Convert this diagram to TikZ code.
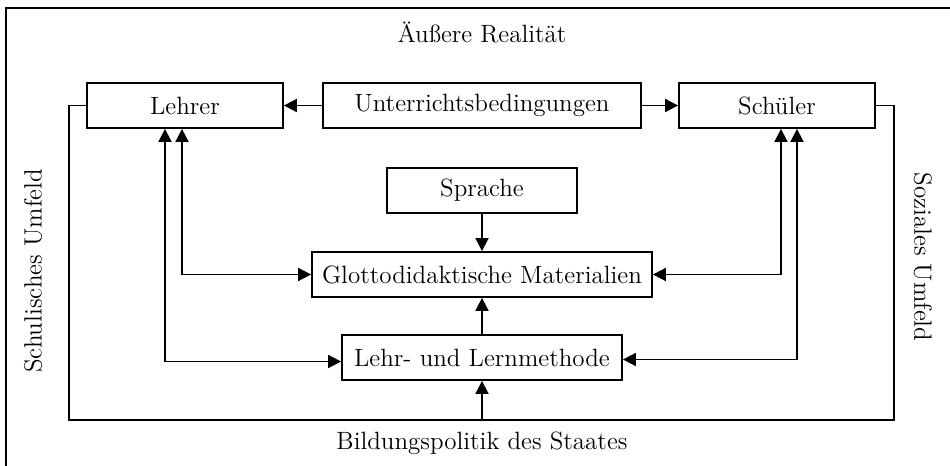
\documentclass[tikz,border=0pt]{standalone}
\usepackage{tikz}
\usetikzlibrary{positioning,arrows.meta}
\tikzset{
  box/.style={draw,line width=0.9pt,minimum height=22.5pt,inner sep=0pt,font=\fontsize{12.5}{14}\selectfont},
  lab/.style={font=\fontsize{12.5}{14}\selectfont},
  arr/.style={-{Triangle[length=6.5pt,width=6.5pt]},line width=0.9pt},
  darr/.style={{Triangle[length=6.5pt,width=6.5pt]}-{Triangle[length=6.5pt,width=6.5pt]},line width=0.9pt}
}
\begin{document}
\begin{tikzpicture}[x=0.5pt,y=-0.5pt]
        \useasboundingbox (0,0) rectangle (950,466);
        % outer frame
        \draw[line width=0.9pt] (6,8) rectangle (960,480);
        \node[lab] (real) at (482,32) {Äußere Realität};
        \node[lab] (politik) at (482,443) {Bildungspolitik des Staates};
        \node[lab,rotate=90] (schule) at (33,271) {Schulisches Umfeld};
        \node[lab,rotate=-90] (sozial) at (923,257) {Soziales Umfeld};

        % top row
        \node[box,minimum width=98pt] (lehrer) at (185,105.5) {Lehrer};
        \node[box,minimum width=159pt] (bed) at (482,105.5) {Unterrichtsbedingungen};
        \node[box,minimum width=98pt] (schueler) at (777,105.5) {Schüler};

        % middle column
        \node[box,minimum width=95pt] (sprache) at (482,190.5) {Sprache};
        \node[box,minimum width=170pt] (mat) at (482,274.5) {Glottodidaktische Materialien};
        \node[box,minimum width=140pt] (methode) at (482,357.5) {Lehr- und Lernmethode};

        \coordinate (bl) at (69,420);
        \coordinate (br) at (894,420);

        \draw[arr] (bed) -- (lehrer);
        \draw[arr] (bed) -- (schueler);
        \draw[arr] (sprache) -- (mat);
        \draw[arr] (methode) -- (mat);
        \draw[line width=0.9pt] (lehrer.west) -| (bl) -- (br) |- (schueler.east);
        \draw[arr] (methode.south |- bl) -- (methode.south);

        % Lehrer and Schueler links
        \draw[darr] ([xshift=-1.5pt]lehrer.south) |- (mat.west);
        \draw[darr] ([xshift=-10pt]lehrer.south) |- ([yshift=-2pt]methode.west);
        \draw[darr] ([xshift=2pt]schueler.south) |- (mat.east);
        \draw[darr] ([xshift=10pt]schueler.south) |- ([yshift=-1pt]methode.east);
\end{tikzpicture}
\end{document}
